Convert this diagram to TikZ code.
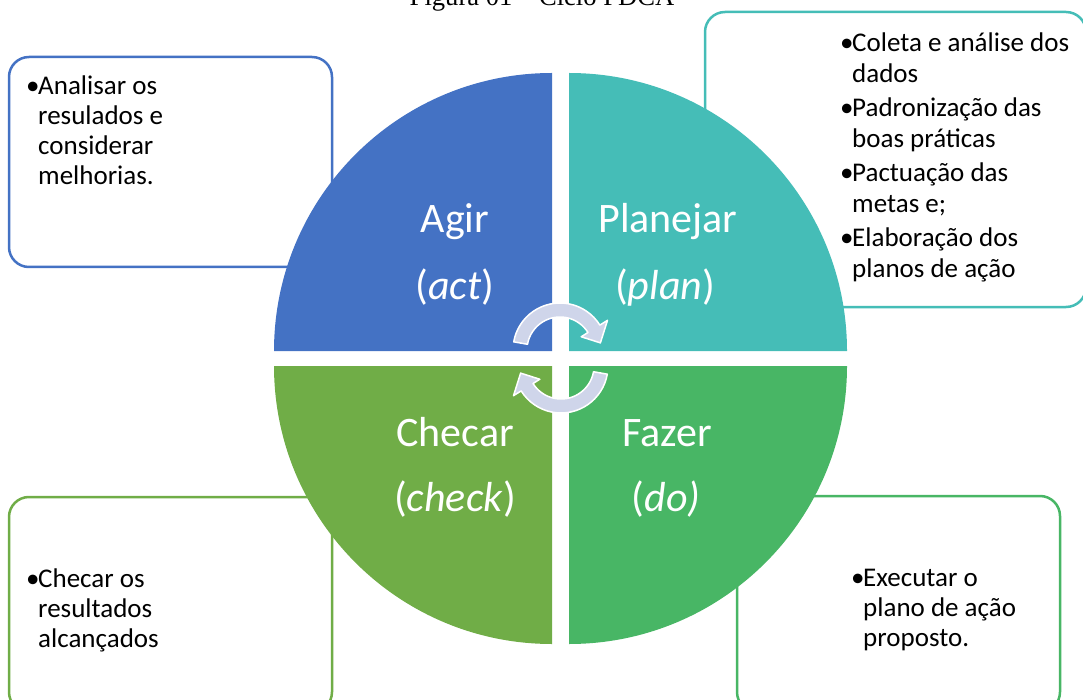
\documentclass[tikz,border=0pt]{standalone}
\usepackage{fontspec}
\setmainfont{Carlito}
\newfontfamily\capfont{Liberation Serif}
\usepackage{tikz}
\definecolor{actblue}{HTML}{4472C4}
\definecolor{planteal}{HTML}{45BDB7}
\definecolor{checkgreen}{HTML}{70AD47}
\definecolor{dogreen}{HTML}{48B665}
\definecolor{cyclefill}{HTML}{CFD5EA}
\newcommand{\blt}{\makebox[12pt][l]{\textbullet}}
\newcommand{\ind}{\hspace*{12pt}}

\begin{document}
\begin{tikzpicture}[x=1pt,y=-1pt,
  stagebox/.style={rounded corners=20pt,line width=2.5pt,fill=white},
  boxtext/.style={anchor=base west,align=left,inner sep=0pt,font=\fontsize{27}{30}\selectfont},
  stagename/.style={anchor=base,inner sep=0pt,text=white,font=\fontsize{42}{50}\selectfont},
  cyclearrow/.style={fill=cyclefill,draw=white,line width=1.5pt,line join=round}]
\clip (0,0) rectangle (1083,700);
\node (titulo) [anchor=base,inner sep=0pt,font=\capfont\fontsize{26.6}{30}\selectfont] at (542,6) {Figura 01 – Ciclo PDCA};
\foreach \xa/\ya/\xb/\yb/\col in {9/57/332/267/actblue, 705/12/1086/307/planteal, 9/497/332/712/checkgreen, 737/496/1060/712/dogreen}
\draw[stagebox,draw=\col] (\xa,\ya) rectangle (\xb,\yb);
\foreach \cx/\cy/\a/\col in {552/351/180/actblue, 569/351/270/planteal, 569/366/0/dogreen, 552/366/90/checkgreen}
\fill[\col] (\cx,\cy) -- ++(\a:278) arc[start angle=\a, end angle=\a+90, radius=278] -- cycle;
\node (agir) [stagename] at (455,233) {Agir};
\node (act) [stagename] at (455,299) {(\textit{act})};
\node (planejar) [stagename] at (668,233) {Planejar};
\node (plan) [stagename] at (665,299) {(\textit{plan})};
\node (checar) [stagename] at (455,446) {Checar};
\node (check) [stagename] at (455,511) {(\textit{check})};
\node (fazer) [stagename] at (667,446) {Fazer};
\node (do) [stagename] at (666,511) {(\textit{do)}};
\begin{scope}[shift={(560,350)}]
\draw[cyclearrow] (-170:47) arc[start angle=-170, end angle=-32, radius=47] -- (-32:56) -- (-10:41) -- (-32:25) -- (-32:33) arc[start angle=-32, end angle=-170, radius=33] -- cycle;
\end{scope}
\begin{scope}[shift={(561,366)}]
\draw[cyclearrow] (10:47) arc[start angle=10, end angle=148, radius=47] -- (148:56) -- (170:41) -- (148:25) -- (148:33) arc[start angle=148, end angle=10, radius=33] -- cycle;
\end{scope}
\node (actlist) [boxtext] at (26,185) {\blt Analisar os\\\ind resulados e\\\ind considerar\\\ind melhorias.};
\node (planlist) [boxtext,font=\fontsize{27}{31}\selectfont] at (840,278) {\blt Coleta e análise dos\\\ind dados\\[3pt]\blt Padronização das\\\ind boas práticas\\[3pt]\blt Pactuação das\\\ind metas e;\\[3pt]\blt Elaboração dos\\\ind planos de ação};
\node (checklist) [boxtext] at (26,647) {\blt Checar os\\\ind resultados\\\ind alcançados};
\node (dolist) [boxtext] at (851,646) {\blt Executar o\\\ind plano de ação\\\ind proposto.};
\end{tikzpicture}
\end{document}
